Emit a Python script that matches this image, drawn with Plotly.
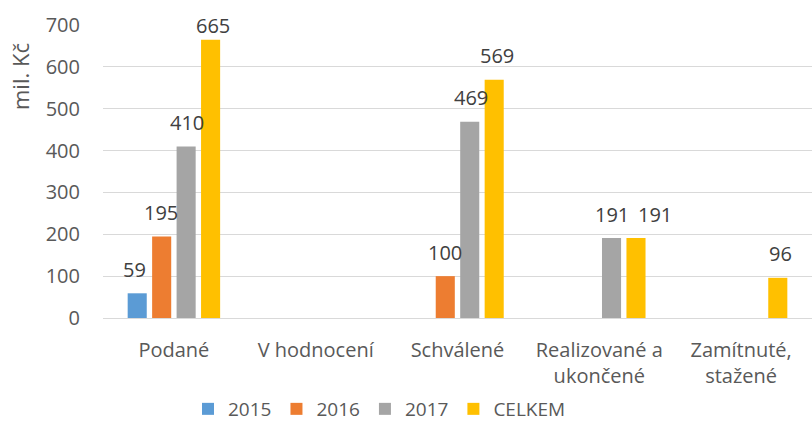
import plotly.graph_objects as go

# Categories and values (mil. Kč); None = no bar in that group
categories = ["Podané", "V hodnocení", "Schválené", "Realizované a<br>ukončené", "Zamítnuté,<br>stažené"]
series_names = ["2015", "2016", "2017", "CELKEM"]
v2015 = [59, None, None, None, None]
v2016 = [195, None, 100, None, None]
v2017 = [410, None, 469, 191, None]
celkem = [665, None, 569, 191, 96]
series_values = [v2015, v2016, v2017, celkem]
colors = ["#5B9BD5", "#ED7D31", "#A5A5A5", "#FFC000"]
y_ticks = [0, 100, 200, 300, 400, 500, 600, 700]

FONT = "Open Sans"
TXT = "#595959"

fig = go.Figure()
for name, vals, col in zip(series_names, series_values, colors):
    fig.add_trace(go.Bar(name=name, x=categories, y=vals, marker_color=col,
                         marker_line_width=0))

# value labels above bars, kept inside the plot's top edge
W, H = 812, 423
L, R, T, B = 103, 0, 25, 105
ymax = 700
px_per_unit = (H - T - B) / ymax
slot = 26  # pixel pitch of one bar inside a group
placed = {}
for i, vals in enumerate(series_values):
    for cat, v in zip(categories, vals):
        if v is None:
            continue
        ylab = min(v + 24 / px_per_unit, ymax)
        dx = (i - 1.5) * slot
        prev = placed.get(cat)
        # push a label right when it would collide with its left neighbour
        if prev is not None and abs(prev[1] - ylab) * px_per_unit < 18 and dx - prev[0] < 43:
            dx = prev[0] + 43
        placed[cat] = (dx, ylab)
        fig.add_annotation(x=cat, y=ylab, text=str(v), showarrow=False,
                           xshift=dx, yanchor="middle",
                           font=dict(family=FONT, size=20, color="#404040"))

fig.add_annotation(xref="paper", yref="paper", x=(20 - L) / (W - L - R),
                   y=(H - B - 77) / (H - T - B), text="mil. Kč", textangle=-90,
                   xanchor="center", yanchor="middle",
                   showarrow=False, font=dict(family=FONT, size=22, color=TXT))

fig.update_layout(
    width=W, height=H,
    margin=dict(l=L, r=R, t=T, b=B, autoexpand=False),
    paper_bgcolor="white", plot_bgcolor="white",
    barmode="group", bargap=0.31, bargroupgap=0.22,
    font=dict(family=FONT, size=20, color=TXT),
    showlegend=True,
    legend=dict(orientation="h", x=(188 - L) / (W - L - R), xanchor="left",
                y=-(409 - (H - B)) / (H - T - B), yanchor="middle",
                font=dict(family=FONT, size=19, color=TXT),
                itemwidth=30, traceorder="normal",
                bgcolor="rgba(0,0,0,0)"),
)
fig.update_xaxes(showgrid=False, showline=False, zeroline=False, automargin=False,
                 ticks="outside", ticklen=14, tickcolor="rgba(0,0,0,0)",
                 tickfont=dict(family=FONT, size=20, color=TXT))
fig.update_yaxes(range=[0, ymax], tickvals=y_ticks, showgrid=True, automargin=False,
                 gridcolor="#D9D9D9", gridwidth=1.3, zeroline=True,
                 zerolinecolor="#D9D9D9", zerolinewidth=1.3, showline=False,
                 ticks="", ticklabelstandoff=22,
                 tickfont=dict(family=FONT, size=20, color=TXT))

fig.write_html("out.html")
